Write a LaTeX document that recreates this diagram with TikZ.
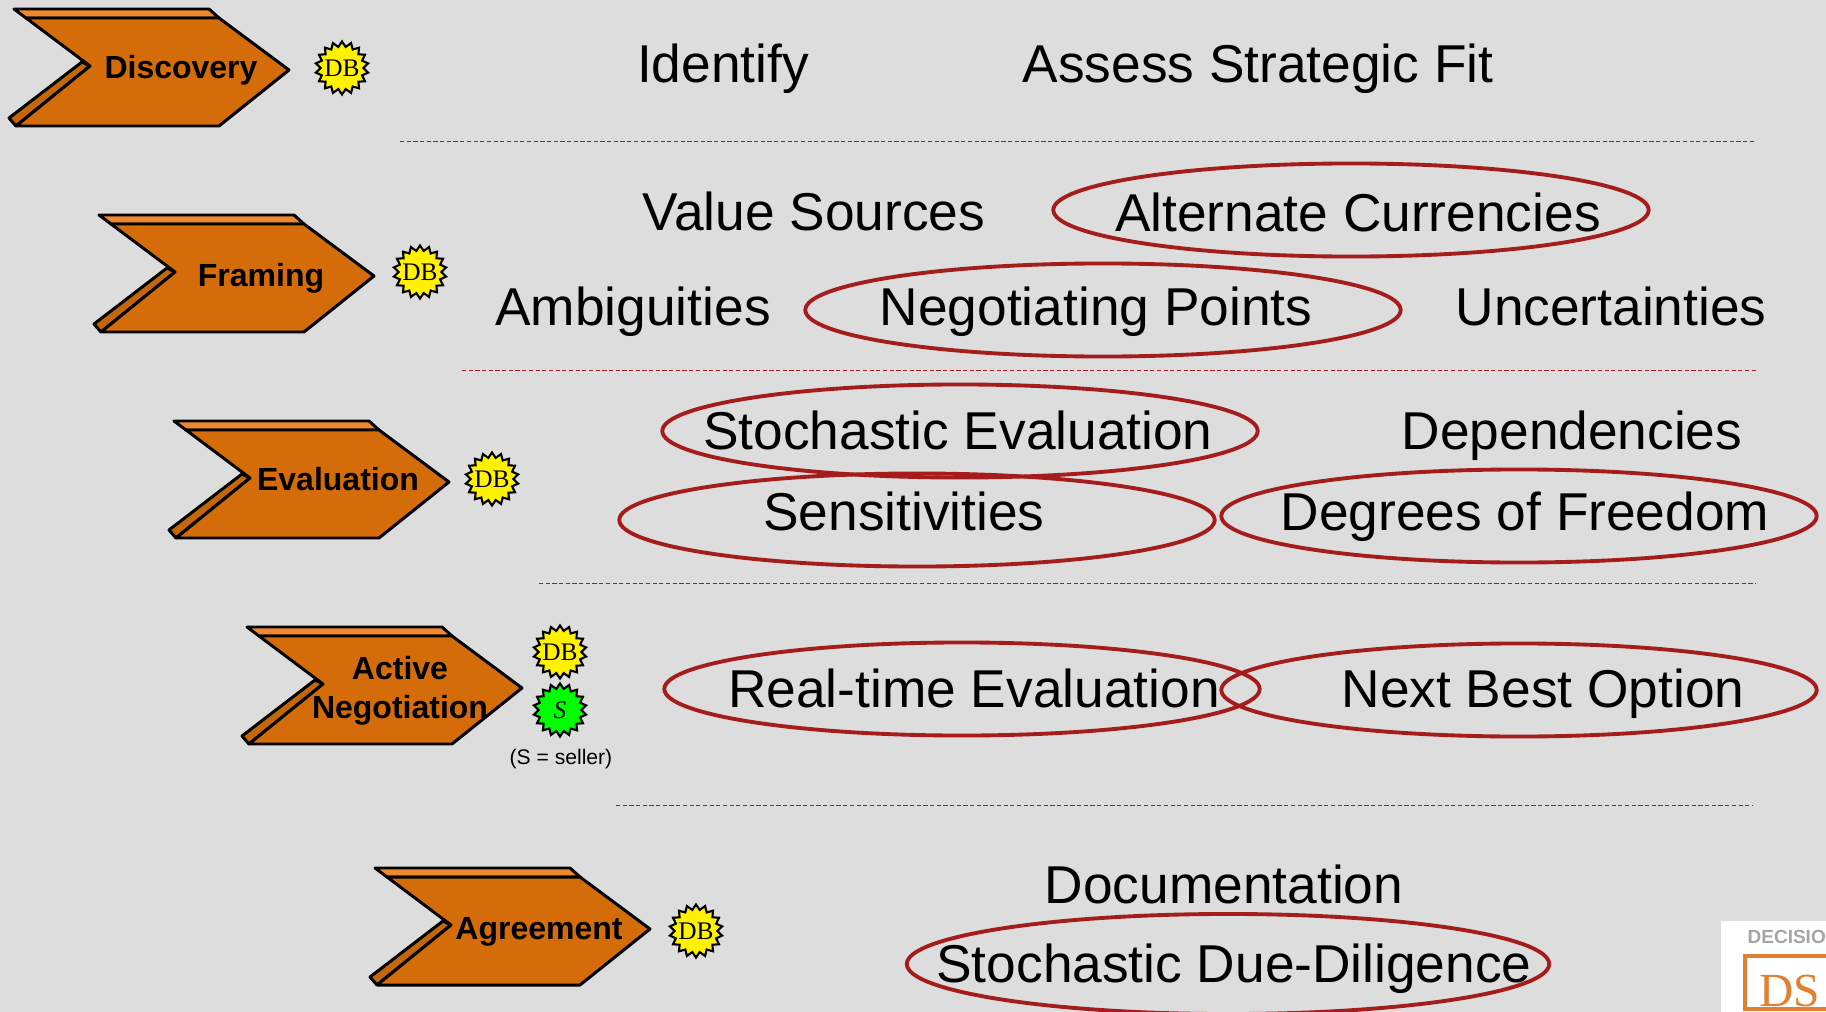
\documentclass[tikz,border=0pt]{standalone}
\usepackage{fontspec}
\usepackage{xcolor}
\setmainfont{Liberation Sans}
\newfontfamily\serifbadge{Liberation Serif}
\usetikzlibrary{calc,positioning,shapes.geometric}
\definecolor{paper}{RGB}{221,221,221}
\definecolor{chevfront}{RGB}{212,108,10}
\definecolor{chevtop}{RGB}{240,136,48}
\definecolor{chevside}{RGB}{196,102,10}
\definecolor{ringred}{RGB}{165,28,28}
\definecolor{logoorange}{RGB}{226,128,50}
\definecolor{logogray}{RGB}{165,165,165}
\tikzset{%
  % Specifications for style of nodes:
  phase/.style = {font=\bfseries\fontsize{9.1}{11}\selectfont, align=center, inner sep=0pt},
  topic/.style = {font=\fontsize{15.15}{18}\selectfont, anchor=base, inner sep=0pt},
  ring/.style = {ellipse, draw=ringred, line width=1.1pt, minimum width=5.95cm,
    minimum height=0.93cm, inner sep=0pt},
  badge/.style = {star, star points=18, star point ratio=1.24, draw=black, line width=0.6pt,
    minimum size=0.53cm, inner sep=0pt},
  badgetext/.style = {text=black, font=\serifbadge\fontsize{7.2}{8}\selectfont, inner sep=0pt},
  divider/.style = {draw=ringred, line width=0.25pt, dash pattern=on 1.2pt off 0.7pt},
  chevron/.pic = {
    \draw[fill=chevtop, line width=0.85pt, line join=round]
      (-275,-61) -- (-80,-61) -- (-70,-52) -- (-263,-52) -- cycle;
    \draw[fill=chevside, line width=0.85pt, line join=round]
      (-280,48) -- (-273,56) -- (-199,-4) -- (-207,-8) -- cycle;
    \draw[fill=chevfront, line width=0.85pt, line join=round]
      (-263,-52) -- (-70,-52) -- (0,0) -- (-70,56) -- (-273,56) -- (-199,-4) -- cycle;
  },
}

\begin{document}
\begin{tikzpicture}[x=0.01cm,y=-0.01cm]
    \useasboundingbox (0,0) rectangle (1826,1012);
    \fill[paper] (0,0) rectangle (1826,1012);
    % Chevrons
    \pic at (289,70) {chevron};
    \pic at (374,276) {chevron};
    \pic at (449,482) {chevron};
    \pic at (522,688) {chevron};
    \pic at (650,929) {chevron};
    \node(Discovery)[phase] at (181,70) {Discovery};
    \node(Framing)[phase] at (261,278) {Framing};
    \node(Evaluation)[phase] at (338,479) {Evaluation};
    \node(Active)[phase] at (400,691) {Active \\ Negotiation};
    \node(Agreement)[phase] at (539,932) {Agreement};
    % Badges
    \node(DbOne)[badge,fill=yellow] at (342,68) {};
    \node(DbTwo)[badge,fill=yellow] at (420,272) {};
    \node(DbThree)[badge,fill=yellow] at (492,479) {};
    \node(DbFour)[badge,fill=yellow] at (560,652) {};
    \node(Seller)[badge,fill=green] at (560,710) {};
    \node(DbFive)[badge,fill=yellow] at (696,931) {};
    \node(DbOneText)[badgetext] at (DbOne) {DB};
    \node(DbTwoText)[badgetext] at (DbTwo) {DB};
    \node(DbThreeText)[badgetext] at (DbThree) {DB};
    \node(DbFourText)[badgetext] at (DbFour) {DB};
    \node(SellerText)[badgetext] at (Seller) {\itshape S};
    \node(DbFiveText)[badgetext] at (DbFive) {DB};
    \node(SellerNote)[font=\fontsize{6}{7}\selectfont,inner sep=0pt] at (561,759) {(S = seller)};
    % Ellipses
    \node(RingCurrencies)[ring] at (1351,210) {};
    \node(RingPoints)[ring] at (1103,310) {};
    \node(RingStochastic)[ring] at (960,431) {};
    \node(RingSensitivities)[ring] at (917,520) {};
    \node(RingFreedom)[ring] at (1519,516) {};
    \node(RingRealtime)[ring] at (962,689) {};
    \node(RingNext)[ring] at (1519,690) {};
    \node(RingDiligence)[ring,minimum width=6.42cm,minimum height=1.0cm] at (1228,964) {};
    % Topics
    \node(Identify)[topic] at (723,82) {Identify};
    \node(Assess)[topic] at (1258,82) {Assess Strategic Fit};
    \node(Sources)[topic] at (814,230) {Value Sources};
    \node(Currencies)[topic] at (1358,231) {Alternate Currencies};
    \node(Ambiguities)[topic] at (633,325) {Ambiguities};
    \node(Points)[topic] at (1096,325) {Negotiating Points};
    \node(Uncertainties)[topic] at (1611,325) {Uncertainties};
    \node(Stochastic)[topic] at (958,449) {Stochastic Evaluation};
    \node(Dependencies)[topic] at (1572,449) {Dependencies};
    \node(Sensitivities)[topic] at (904,530) {Sensitivities};
    \node(Freedom)[topic] at (1525,530) {Degrees of Freedom};
    \node(Realtime)[topic] at (974,707) {Real-time Evaluation};
    \node(Next)[topic] at (1543,707) {Next Best Option};
    \node(Documentation)[topic] at (1224,903) {Documentation};
    \node(Diligence)[topic] at (1234,982) {Stochastic Due-Diligence};
    % Dividers
    \coordinate(LineAa) at (400,141);
    \coordinate(LineAb) at (1756,141);
    \coordinate(LineBa) at (462,370);
    \coordinate(LineBb) at (1756,370);
    \coordinate(LineCa) at (539,583);
    \coordinate(LineCb) at (1756,583);
    \coordinate(LineDa) at (616,805);
    \coordinate(LineDb) at (1753,805);
    \draw[divider](LineAa) -- (LineAb);
    \draw[divider](LineBa) -- (LineBb);
    \draw[divider](LineCa) -- (LineCb);
    \draw[divider](LineDa) -- (LineDb);
    % Logo in the corner
    \begin{scope}
      \clip (0,0) rectangle (1826,1012);
      \fill[white] (1721,921) rectangle (1830,1016);
      \node(LogoWord)[anchor=base west,text=logogray,inner sep=0pt,font=\bfseries\fontsize{5.4}{6}\selectfont] at (1747,943) {DECISIO};
      \draw[logoorange,line width=0.9pt] (1745,956) rectangle (1860,1009);
      \node(LogoMark)[anchor=base west,text=logoorange,inner sep=0pt,font=\serifbadge\fontsize{13.5}{15}\selectfont] at (1759,1006) {DS};
    \end{scope}
\end{tikzpicture}
\end{document}
